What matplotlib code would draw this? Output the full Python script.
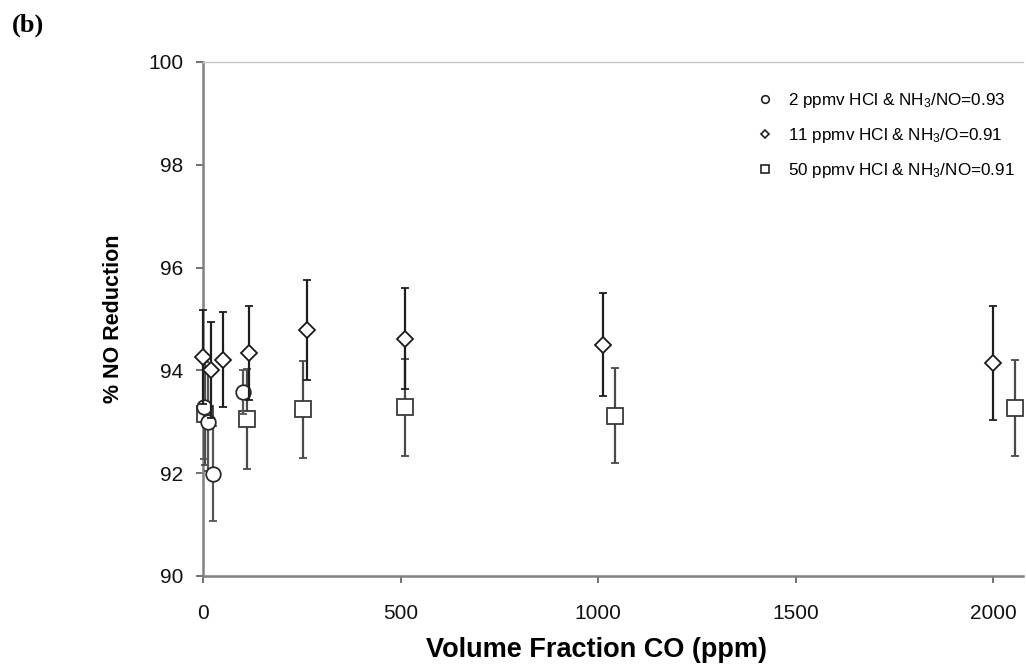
import matplotlib
matplotlib.use("Agg")
import matplotlib.pyplot as plt
from matplotlib.lines import Line2D

plt.rcParams['font.family'] = ['Liberation Sans', 'DejaVu Sans']
plt.rcParams['mathtext.fontset'] = 'custom'
plt.rcParams['mathtext.rm'] = 'Liberation Sans'
plt.rcParams['mathtext.it'] = 'Liberation Sans:italic'
plt.rcParams['mathtext.bf'] = 'Liberation Sans:bold'

# ---- data ----
circle_x = [3, 13, 26, 100]
circle_y = [93.28, 93.00, 91.99, 93.58]
circle_err = [1.00, 0.95, 0.92, 0.42]

diamond_x = [0, 20, 51, 116, 263, 511, 1012, 2000]
diamond_y = [94.26, 94.01, 94.21, 94.34, 94.79, 94.62, 94.50, 94.14]
diamond_err = [0.92, 0.93, 0.92, 0.92, 0.97, 0.98, 1.00, 1.11]

square_x = [5, 111, 253, 511, 1043, 2054]
square_y = [93.16, 93.05, 93.24, 93.28, 93.12, 93.27]
square_err = [1.00, 0.97, 0.95, 0.95, 0.93, 0.93]

series_labels = ["2 ppmv HCl & NH$_3$/NO=0.93",
                 "11 ppmv HCl & NH$_3$/O=0.91",
                 "50 ppmv HCl & NH$_3$/NO=0.91"]

x_ticks = [0, 500, 1000, 1500, 2000]
y_ticks = [90, 92, 94, 96, 98, 100]

# ---- figure ----
fig = plt.figure(figsize=(10.26, 6.69), dpi=100)
ax = fig.add_axes([203/1026, 93/669, 820/1026, 514/669])

bar_kw = dict(linestyle='none', capsize=3, capthick=1.6, elinewidth=1.6,
              markerfacecolor='white', markeredgewidth=1.3, clip_on=False)

ax.errorbar(square_x, square_y, yerr=square_err, marker='s', markersize=11,
            color='#3a3a3a', ecolor='#4a4a4a', zorder=3, **bar_kw)
ax.errorbar(circle_x, circle_y, yerr=circle_err, marker='o', markersize=10.5,
            color='#2a2a2a', ecolor='#555555', zorder=4, **bar_kw)
ax.errorbar(diamond_x, diamond_y, yerr=diamond_err, marker='D', markersize=8.2,
            color='#1a1a1a', ecolor='#1f1f1f', zorder=5, **bar_kw)

ax.set_xlim(0, 2075)
ax.set_ylim(90, 100)
ax.set_xticks(x_ticks)
ax.set_yticks(y_ticks)
ax.tick_params(axis='both', direction='out', length=5, width=1.3,
               color='#666666', labelcolor='#111111', labelsize=15)
ax.tick_params(axis='x', pad=15)
ax.tick_params(axis='y', pad=9)

for side in ['left', 'bottom']:
    ax.spines[side].set_color('#808080')
    ax.spines[side].set_linewidth(1.8)
ax.spines['top'].set_color('#c8c8c8')
ax.spines['top'].set_linewidth(1.0)
ax.spines['right'].set_visible(False)

ax.set_xlabel("Volume Fraction CO (ppm)", fontsize=19.5, fontweight='bold')
ax.set_ylabel("% NO Reduction", fontsize=15.5, fontweight='bold')
ax.xaxis.set_label_coords((597 - 203) / 820, (576 - 637) / 514)
ax.yaxis.set_label_coords((124 - 203) / 820, 0.5)

handles = [
    Line2D([], [], linestyle='none', marker='o', markersize=5.5,
           markerfacecolor='white', markeredgecolor='#222222', markeredgewidth=1.2),
    Line2D([], [], linestyle='none', marker='D', markersize=4.2,
           markerfacecolor='white', markeredgecolor='#222222', markeredgewidth=1.2),
    Line2D([], [], linestyle='none', marker='s', markersize=6,
           markerfacecolor='white', markeredgecolor='#222222', markeredgewidth=1.2),
]
ax.legend(handles, series_labels, loc='upper left',
          bbox_to_anchor=((750 - 203) / 820, (576 - 84) / 514),
          frameon=False, fontsize=12.3, handlelength=1.0, handletextpad=0.8,
          labelspacing=0.95, borderaxespad=0)

fig.text(12 / 1026, 1 - 25 / 669, "(b)", fontsize=19, fontweight='bold',
         family=['Liberation Serif', 'DejaVu Serif'], va='center', ha='left')

fig.savefig("out.png", dpi=100)
